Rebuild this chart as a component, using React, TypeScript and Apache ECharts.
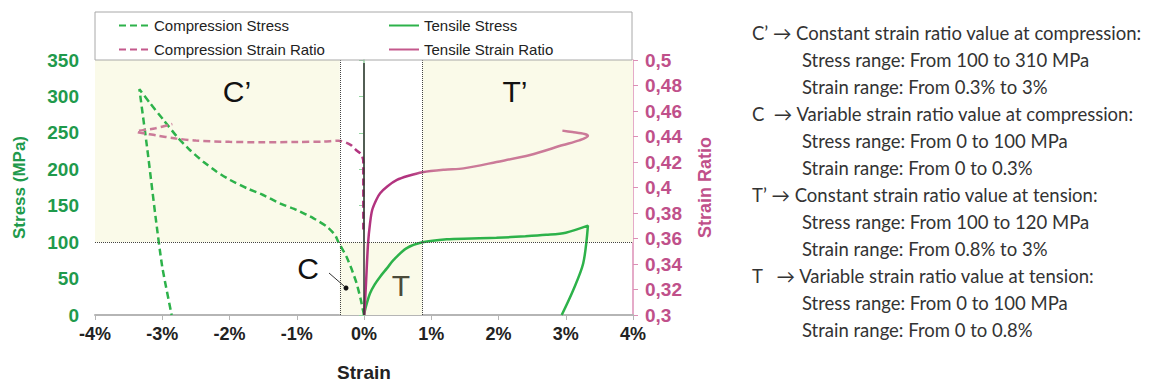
import React, { useEffect, useRef } from "react";
import * as echarts from "echarts";

// Compression (dashed) – strain in %, stress in MPa
const compStrain = [0, -0.05, -0.11, -0.18, -0.26, -0.38, -0.43, -0.55, -0.75, -1.0, -1.25, -1.5, -1.74, -1.99, -2.19, -2.39, -2.59, -2.78, -2.98, -3.18, -3.34, -3.22, -3.1, -3.0, -2.86];
const compStress = [0, 22, 43.5, 62, 80, 100, 109.8, 121.2, 132.7, 144.1, 153.3, 164.7, 173.9, 185.3, 196.7, 210.4, 226.5, 244.7, 267.6, 290.6, 310, 226, 135, 66, 0];

const compRatioStrain = [-0.01, -0.01, -0.04, -0.11, -0.2, -0.38, -0.6, -1.0, -1.5, -2.0, -2.5, -2.8, -3.1, -3.38, -3.1, -2.85];
const compRatio = [0.367, 0.42, 0.426, 0.429, 0.4335, 0.4367, 0.436, 0.4357, 0.4355, 0.4358, 0.4368, 0.4385, 0.441, 0.4438, 0.4465, 0.4498];

// Tension (solid)
const tensStrain = [0, 0.03, 0.09, 0.16, 0.24, 0.34, 0.44, 0.63, 0.87, 1.23, 1.6, 1.97, 2.4, 2.71, 3.0, 3.33, 3.26, 3.11, 2.94];
const tensStress = [0, 12, 29.8, 42, 52.6, 64, 75.5, 91.5, 99.8, 104, 105, 106, 108, 110, 113, 122.6, 71, 34, 0];

const tensRatioStrain = [0.005, 0.03, 0.06, 0.09, 0.12, 0.18, 0.24, 0.35, 0.49, 0.65, 0.87, 1.2, 1.48, 1.97, 2.47, 2.96, 3.2, 3.33, 3.28, 3.1, 2.95];
const tensRatio = [0.3, 0.325, 0.356, 0.372, 0.382, 0.39, 0.3955, 0.401, 0.4059, 0.409, 0.412, 0.414, 0.415, 0.42, 0.4255, 0.4333, 0.437, 0.4404, 0.442, 0.4435, 0.4446];

// Region boundaries
const cBound = -0.36;
const tBound = 0.87;
const stressThreshold = 100;

const xTicks = { min: -4, max: 4, interval: 1 };
const stressTicks = { min: 0, max: 350, interval: 50 };
const ratioTicks = { min: 0.3, max: 0.5, interval: 0.02 };

const notes = [
  { text: "C’ → Constant strain ratio value at compression:", indent: false },
  { text: "Stress range: From 100 to 310 MPa", indent: true },
  { text: "Strain range: From 0.3% to 3%", indent: true },
  { text: "C  → Variable strain ratio value at compression:", indent: false },
  { text: "Stress range: From 0 to 100 MPa", indent: true },
  { text: "Strain range: From 0 to 0.3%", indent: true },
  { text: "T’ → Constant strain ratio value at tension:", indent: false },
  { text: "Stress range: From 100 to 120 MPa", indent: true },
  { text: "Strain range: From 0.8% to 3%", indent: true },
  { text: "T   → Variable strain ratio value at tension:", indent: false },
  { text: "Stress range: From 0 to 100 MPa", indent: true },
  { text: "Strain range: From 0 to 0.8%", indent: true },
];

const GREEN = "#2db24a";
const GREEN_TXT = "#1f9a4c";
const PINK = "#c4588c";
const PINK_DARK = "#b2337f";
const PINK_LIGHT = "#cb7a98";
const PINK_TXT = "#c0508a";
const SHADE = "#fafae9";

const zip = (a: number[], b: number[]) => a.map((v, i) => [v, b[i]]);

export default function App() {
  const ref = useRef<HTMLDivElement>(null);
  useEffect(() => {
    if (!ref.current) return;
    const chart = echarts.init(ref.current, null, { renderer: "svg" });
    const font = "Liberation Sans";
    const dotted = { type: "dotted" as const, color: "#444", width: 1 };
    const legendBase = {
      top: 13, orient: "vertical", itemGap: 9, itemWidth: 30, itemHeight: 14,
      textStyle: { fontSize: 15, color: "#222", fontFamily: font },
      itemStyle: { color: "rgba(0,0,0,0)", borderColor: "rgba(0,0,0,0)", borderWidth: 0 },
    };
    const tensGrad = new echarts.graphic.LinearGradient(0, 0, 1, 0, [
      { offset: 0, color: PINK_DARK },
      { offset: 0.2, color: PINK_DARK },
      { offset: 0.32, color: PINK_LIGHT },
      { offset: 1, color: PINK_LIGHT },
    ]);
    const compGrad = new echarts.graphic.LinearGradient(0, 0, 1, 0, [
      { offset: 0, color: PINK_LIGHT },
      { offset: 0.88, color: PINK_LIGHT },
      { offset: 0.96, color: PINK_DARK },
      { offset: 1, color: PINK_DARK },
    ]);
    const option: any = {
      animation: false,
      textStyle: { fontFamily: font },
      grid: { left: 95, right: 516, top: 60, bottom: 68, containLabel: false, outerBoundsMode: "none" },
      legend: [
        {
          ...legendBase, left: 113,
          data: [
            { name: "Compression Stress" },
            { name: "Compression Strain Ratio", lineStyle: { color: PINK } },
          ],
        },
        {
          ...legendBase, left: 383,
          data: [
            { name: "Tensile Stress" },
            { name: "Tensile Strain Ratio", lineStyle: { color: PINK } },
          ],
        },
      ],
      xAxis: {
        type: "value", ...xTicks,
        name: "Strain", nameLocation: "middle", nameGap: 47,
        nameTextStyle: { fontSize: 19, lineHeight: 20, fontWeight: "bold", color: "#222" },
        axisLine: { onZero: false, lineStyle: { color: "#b5b5b5", width: 2 } },
        axisTick: { show: true, length: 5, lineStyle: { color: "#b5b5b5" } },
        axisLabel: { formatter: (v: number) => `${v}%`, fontSize: 18, fontWeight: "bold", color: "#222", margin: 10 },
        splitLine: { show: false },
      },
      yAxis: [
        {
          type: "value", ...stressTicks,
          name: "Stress (MPa)", nameLocation: "middle", nameGap: 67,
          nameTextStyle: { fontSize: 17, fontWeight: "bold", color: GREEN_TXT },
          axisLine: { show: true, lineStyle: { color: "#93d5a0", width: 1.5 } },
          axisTick: { show: true, length: 5, lineStyle: { color: "#93d5a0" } },
          axisLabel: { fontSize: 19, fontWeight: "bold", color: GREEN_TXT, margin: 16 },
          splitLine: { show: false },
        },
        {
          type: "value", ...ratioTicks, position: "right",
          name: "Strain Ratio", nameLocation: "middle", nameGap: 63,
          nameTextStyle: { fontSize: 18, fontWeight: "bold", color: PINK_TXT },
          axisLine: { show: true, lineStyle: { color: "#dc8fb6", width: 1.5 } },
          axisTick: { show: true, length: 5, lineStyle: { color: "#dc8fb6" } },
          axisLabel: {
            fontSize: 19, fontWeight: "bold", color: PINK_TXT, margin: 12,
            formatter: (v: number) => parseFloat(v.toFixed(2)).toString().replace(".", ","),
          },
          splitLine: { show: false },
        },
      ],
      series: [
        {
          type: "line", yAxisIndex: 0, data: [], z: 1, silent: true,
          markArea: {
            silent: true,
            itemStyle: { color: SHADE },
            data: [
              [{ coord: [xTicks.min, stressThreshold] }, { coord: [cBound, stressTicks.max] }],
              [{ coord: [tBound, stressThreshold] }, { coord: [xTicks.max, stressTicks.max] }],
              [{ coord: [cBound, stressTicks.min] }, { coord: [tBound, stressThreshold] }],
            ],
          },
          markLine: {
            silent: true, symbol: "none", label: { show: false },
            lineStyle: dotted,
            data: [
              [{ coord: [xTicks.min, stressThreshold] }, { coord: [xTicks.max, stressThreshold] }],
              [{ coord: [cBound, stressTicks.min] }, { coord: [cBound, stressTicks.max] }],
              [{ coord: [tBound, stressTicks.min] }, { coord: [tBound, stressTicks.max] }],
              [{ coord: [0, 0], lineStyle: { type: "solid", color: "#333", width: 1.5 } }, { coord: [0, 346] }],
            ],
          },
        },
        {
          name: "Compression Stress", type: "line", yAxisIndex: 0, z: 3,
          data: zip(compStrain, compStress), showSymbol: false, symbol: "none", smooth: 0.2,
          lineStyle: { color: GREEN, width: 2.5, type: [7, 4] }, itemStyle: { color: GREEN },
        },
        {
          name: "Tensile Stress", type: "line", yAxisIndex: 0, z: 3,
          data: zip(tensStrain, tensStress), showSymbol: false, symbol: "none", smooth: 0.3,
          lineStyle: { color: GREEN, width: 2.5 }, itemStyle: { color: GREEN },
        },
        {
          name: "Compression Strain Ratio", type: "line", yAxisIndex: 1, z: 3,
          data: zip(compRatioStrain, compRatio), showSymbol: false, symbol: "none", smooth: 0.3,
          lineStyle: { color: compGrad, width: 2.5, type: [7, 4] }, itemStyle: { color: PINK },
        },
        {
          name: "Tensile Strain Ratio", type: "line", yAxisIndex: 1, z: 3,
          data: zip(tensRatioStrain, tensRatio), showSymbol: false, symbol: "none", smooth: 0.3,
          lineStyle: { color: tensGrad, width: 2.5 }, itemStyle: { color: PINK },
        },
      ],
      graphic: [
        { type: "rect", shape: { x: 95, y: 12, width: 537, height: 48 }, style: { fill: "none", stroke: "#a8a8a8", lineWidth: 1 }, z: 10 },
        { type: "text", x: 237, y: 91, style: { text: "C’", font: `30px ${font}`, fill: "#111", align: "center", verticalAlign: "middle" }, z: 10 },
        { type: "text", x: 515, y: 91, style: { text: "T’", font: `30px ${font}`, fill: "#111", align: "center", verticalAlign: "middle" }, z: 10 },
        { type: "text", x: 401, y: 285, style: { text: "T", font: `30px ${font}`, fill: "#4a4a3a", align: "center", verticalAlign: "middle" }, z: 10 },
        { type: "text", x: 308, y: 268, style: { text: "C", font: `30px ${font}`, fill: "#111", align: "center", verticalAlign: "middle" }, z: 10 },
        { type: "line", shape: { x1: 329, y1: 273, x2: 344, y2: 286 }, style: { stroke: "#333", lineWidth: 1 }, z: 10 },
        { type: "circle", shape: { cx: 346, cy: 288, r: 2.5 }, style: { fill: "#111" }, z: 10 },
        ...notes.map((n, i) => ({
          type: "text",
          x: n.indent ? 802 : 752,
          y: 33 + i * 27,
          style: { text: n.text, font: `18.5px Lato`, fill: "#333", verticalAlign: "middle" },
        })),
      ],
    };
    chart.setOption(option);
    return () => chart.dispose();
  }, []);
  return <div ref={ref} style={{ position: "absolute", left: 0, top: 0, width: 1149, height: 383 }} />;
}
